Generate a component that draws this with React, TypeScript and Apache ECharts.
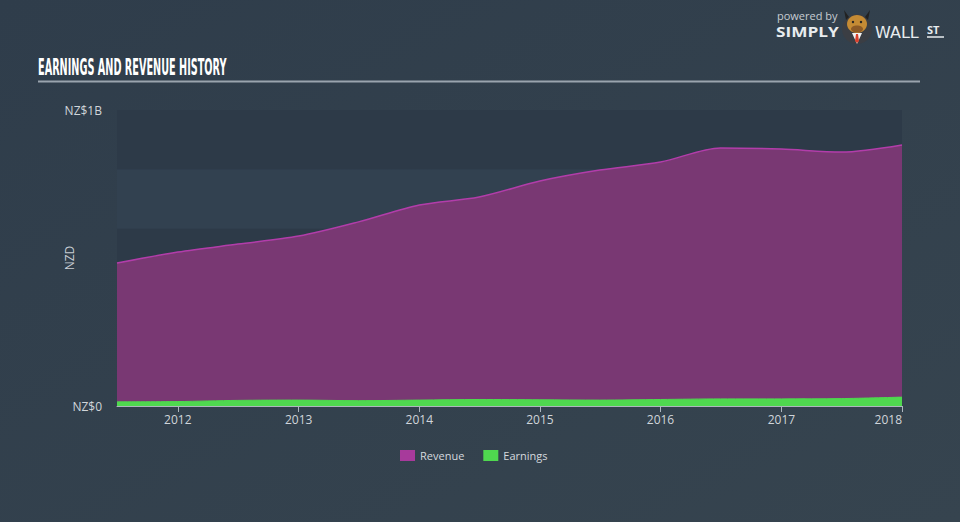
import React, { useEffect, useRef } from "react";
import * as echarts from "echarts";

const dates = [
  "2011-07-01", "2012-01-01", "2012-07-01", "2013-01-01", "2013-07-01",
  "2014-01-01", "2014-07-01", "2015-01-01", "2015-07-01", "2016-01-01",
  "2016-07-01", "2017-01-01", "2017-07-01", "2018-01-01",
];
// NZ$ millions
const revenue = [483, 520, 547, 574, 622, 679, 706, 760, 797, 824, 872, 868, 858, 882];
const earnings = [14, 15, 19, 20, 18, 20, 22, 21, 20, 22, 24, 24, 25, 30];
const yTickLabels: Record<number, string> = { 0: "NZ$0", 1000000000: "NZ$1B" };

const LABEL_FONT = "'Open Sans', 'Noto Sans', sans-serif";

export default function App() {
  const ref = useRef<HTMLDivElement>(null);
  useEffect(() => {
    if (!ref.current) return;
    const chart = echarts.init(ref.current, undefined, { renderer: "svg" });
    const rev = dates.map((d, i) => [d, revenue[i] * 1e6]);
    const earn = dates.map((d, i) => [d, earnings[i] * 1e6]);
    chart.setOption({
      animation: false,
      backgroundColor: new echarts.graphic.LinearGradient(0, 0, 1, 1, [
        { offset: 0, color: "#2f3d4b" },
        { offset: 1, color: "#36444f" },
      ]),
      grid: { left: 117, right: 58, top: 110, bottom: 116 },
      legend: {
        left: 395,
        top: 445,
        itemWidth: 15,
        itemHeight: 11,
        itemGap: 19,
        icon: "rect",
        textStyle: { color: "#d4d9de", fontSize: 11, fontFamily: LABEL_FONT },
        data: [
          { name: "Revenue", itemStyle: { color: "#a73a9b" } },
          { name: "Earnings", itemStyle: { color: "#4fd84f" } },
        ],
      },
      xAxis: {
        type: "time",
        min: dates[0],
        max: dates[dates.length - 1],
        minInterval: 365 * 24 * 3600 * 1000,
        axisLine: { show: true, lineStyle: { color: "#aeb6be", width: 1 } },
        axisTick: { show: true, length: 6, lineStyle: { color: "#aeb6be" } },
        splitLine: { show: false },
        axisLabel: {
          color: "#d0d5da",
          fontSize: 12,
          fontFamily: LABEL_FONT,
          margin: 7,
          formatter: "{yyyy}",
          alignMaxLabel: "right",
          showMinLabel: false,
          showMaxLabel: true,
        },
      },
      yAxis: {
        type: "value",
        min: 0,
        max: 1000000000,
        interval: 200000000,
        name: "NZD",
        nameLocation: "middle",
        nameGap: 42,
        nameMoveOverlap: false,
        nameTextStyle: { color: "#c8ced4", fontSize: 12, fontFamily: LABEL_FONT },
        axisLine: { show: false },
        axisTick: { show: false },
        splitLine: { show: false },
        splitArea: { show: true, areaStyle: { color: ["#2d3a48", "#324150"] } },
        axisLabel: {
          color: "#d0d5da",
          fontSize: 12,
          fontFamily: LABEL_FONT,
          margin: 15,
          formatter: (v: number) => yTickLabels[v] ?? "",
        },
      },
      series: [
        {
          name: "Revenue",
          type: "line",
          data: rev,
          smooth: 0.3,
          symbol: "none",
          lineStyle: { color: "#b23daa", width: 1.5 },
          itemStyle: { color: "#a73a9b" },
          areaStyle: { color: "#793873", opacity: 1 },
          z: 2,
        },
        {
          name: "Earnings",
          type: "line",
          data: earn,
          smooth: 0.3,
          symbol: "none",
          lineStyle: { color: "#4fd84f", width: 1 },
          itemStyle: { color: "#4fd84f" },
          areaStyle: { color: "#4fd84f", opacity: 1 },
          z: 3,
        },
      ],
      graphic: [
        {
          type: "text",
          x: 38,
          y: 56,
          scaleX: 0.83,
          scaleY: 1.7,
          style: {
            text: "EARNINGS AND REVENUE HISTORY",
            fill: "#ffffff",
            font: "bold 13px 'Liberation Sans Narrow', 'DejaVu Sans Condensed', sans-serif",
          },
        },
        {
          type: "line",
          shape: { x1: 38, y1: 81.5, x2: 920, y2: 81.5 },
          style: { stroke: "#9aa4ae", lineWidth: 2 },
        },
        {
          type: "text",
          x: 777,
          y: 10,
          style: { text: "powered by", fill: "#c6ccd2", font: "11px 'Open Sans', sans-serif" },
        },
        {
          type: "text",
          x: 776,
          y: 24,
          scaleX: 1.15,
          style: { text: "SIMPLY", fill: "#e8ecef", font: "bold 15px 'Open Sans', sans-serif" },
        },
        {
          type: "text",
          x: 875,
          y: 24,
          style: { text: "WALL", fill: "#e8ecef", font: "16px 'DejaVu Sans', sans-serif" },
        },
        {
          type: "text",
          x: 927,
          y: 24,
          style: { text: "ST", fill: "#e8ecef", font: "bold 11px 'Open Sans', sans-serif" },
        },
        {
          type: "line",
          shape: { x1: 927, y1: 37, x2: 944, y2: 37 },
          style: { stroke: "#e8ecef", lineWidth: 1.5 },
        },
        { type: "circle", shape: { cx: 857, cy: 29, r: 15 }, style: { fill: "#3b3e44" } },
        {
          type: "polygon",
          shape: { points: [[852, 33], [862, 33], [857, 44]] },
          style: { fill: "#f2f2f2" },
        },
        {
          type: "polygon",
          shape: { points: [[856, 34], [858, 34], [859, 41], [857, 43], [855, 41]] },
          style: { fill: "#d9402c" },
        },
        {
          type: "polygon",
          shape: { points: [[846, 20], [844, 10], [849, 17]] },
          style: { fill: "#222222" },
        },
        {
          type: "polygon",
          shape: { points: [[868, 20], [870, 10], [865, 17]] },
          style: { fill: "#222222" },
        },
        { type: "ellipse", shape: { cx: 857, cy: 24, rx: 10, ry: 9 }, style: { fill: "#c58b34" } },
        { type: "ellipse", shape: { cx: 857, cy: 29, rx: 6, ry: 3.5 }, style: { fill: "#8d5a26" } },
        { type: "circle", shape: { cx: 853, cy: 22, r: 1.2 }, style: { fill: "#222" } },
        { type: "circle", shape: { cx: 861, cy: 22, r: 1.2 }, style: { fill: "#222" } },
      ],
    });
    return () => chart.dispose();
  }, []);
  return (
    <div
      ref={ref}
      style={{ position: "fixed", left: 0, top: 0, width: 960, height: 522 }}
    />
  );
}
